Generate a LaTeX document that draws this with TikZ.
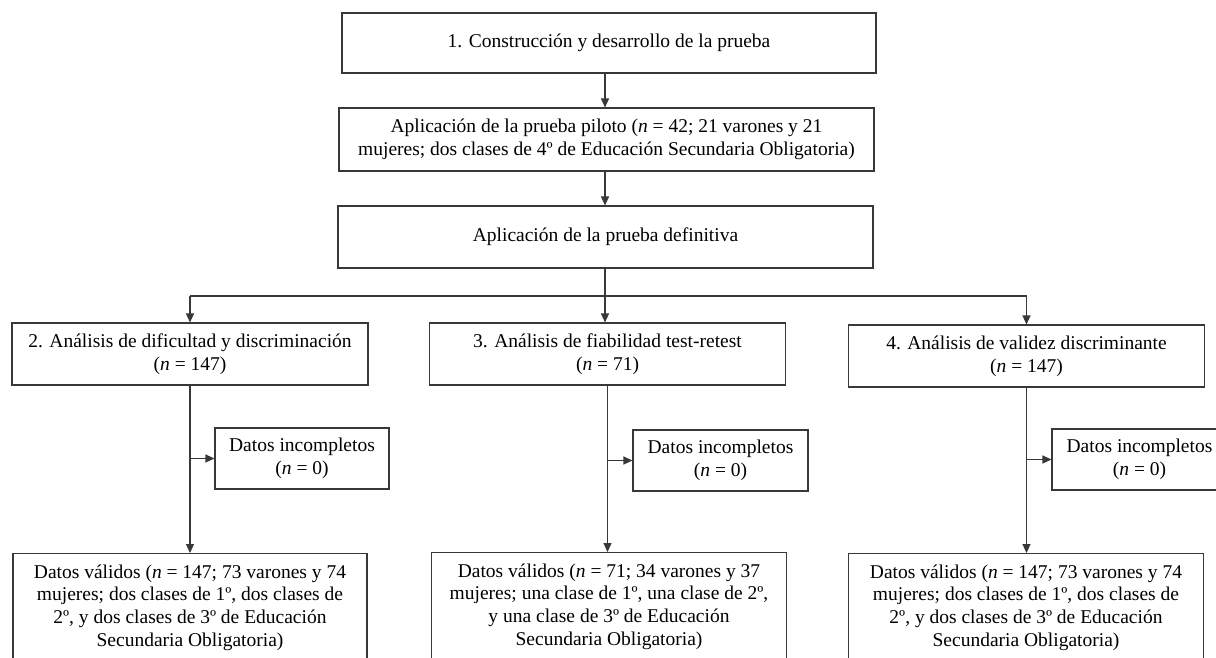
\documentclass[tikz,border=0pt]{standalone}
\usepackage{fontspec}
\setmainfont{Liberation Serif}
\usetikzlibrary{arrows.meta}
\begin{document}
\begin{tikzpicture}[x=1pt,y=-1pt,
  box/.style={draw=black!78,line width=1.1pt,inner sep=0pt,align=center,
    font=\fontsize{19.5}{22.7}\selectfont,text=black},
  conn/.style={draw=black!78,line width=1.1pt},
  arr/.style={conn,-{Triangle[length=9pt,width=8pt]}}]
\useasboundingbox (0,0) rectangle (1216,657);
\fill[white] (0,0) rectangle (1216,657);
\clip (0,0) rectangle (1216,657);
% top column
\node[box,minimum width=534pt,minimum height=60pt] (b1) at (609,43) {1. Construcción y desarrollo de la prueba};
\node[box,minimum width=535pt,minimum height=63pt] (b2) at (606.5,139.5) {Aplicación de la prueba piloto (\textit{n} = 42; 21 varones y 21\\mujeres; dos clases de 4º de Educación Secundaria Obligatoria)};
\node[box,minimum width=535pt,minimum height=62pt] (b3) at (605.5,237) {Aplicación de la prueba definitiva};
\coordinate (sx) at (605,0);
\coordinate (j) at (605,296);
% analyses
\node[box,minimum width=356pt,minimum height=62pt] (A) at (190,354) {2. Análisis de dificultad y discriminación\\(\textit{n} = 147)};
\node[box,minimum width=356pt,minimum height=62pt] (B) at (607.5,354) {3. Análisis de fiabilidad test-retest\\(\textit{n} = 71)};
\node[box,minimum width=356pt,minimum height=62pt] (C) at (1026.5,356) {4. Análisis de validez discriminante\\(\textit{n} = 147)};
% incomplete data
\node[box,minimum width=174pt,minimum height=61pt] (DA) at (302,458.5) {Datos incompletos\\(\textit{n} = 0)};
\node[box,minimum width=175pt,minimum height=61pt] (DB) at (720.5,460.5) {Datos incompletos\\(\textit{n} = 0)};
\node[box,minimum width=175pt,minimum height=61pt] (DC) at (1139.5,459.5) {Datos incompletos\\(\textit{n} = 0)};
% valid data
\node[box,anchor=north,minimum width=354pt,minimum height=108pt] (VA) at (190,553) {Datos válidos (\textit{n} = 147; 73 varones y 74\\mujeres; dos clases de 1º, dos clases de\\2º, y dos clases de 3º de Educación\\Secundaria Obligatoria)};
\node[box,anchor=north,minimum width=355pt,minimum height=108pt] (VB) at (609,552) {Datos válidos (\textit{n} = 71; 34 varones y 37\\mujeres; una clase de 1º, una clase de 2º,\\y una clase de 3º de Educación\\Secundaria Obligatoria)};
\node[box,anchor=north,minimum width=355pt,minimum height=108pt] (VC) at (1026,553) {Datos válidos (\textit{n} = 147; 73 varones y 74\\mujeres; dos clases de 1º, dos clases de\\2º, y dos clases de 3º de Educación\\Secundaria Obligatoria)};
% connectors
\draw[arr] (b1.south -| sx) -- (b2.north -| sx);
\draw[arr] (b2.south -| sx) -- (b3.north -| sx);
\draw[conn] (b3.south -| sx) -- (j);
\draw[conn] (A.north |- j) -- (C.north |- j);
\draw[arr] (A.north |- j) -- (A.north);
\draw[arr] (j) -- (B.north -| j);
\draw[arr] (C.north |- j) -- (C.north);
\draw[arr] (A.south) -- (A.south |- VA.north);
\draw[arr] (B.south) -- (B.south |- VB.north);
\draw[arr] (C.south) -- (C.south |- VC.north);
\draw[arr] (A.south |- DA.west) -- (DA.west);
\draw[arr] (B.south |- DB.west) -- (DB.west);
\draw[arr] (C.south |- DC.west) -- (DC.west);
\end{tikzpicture}
\end{document}
